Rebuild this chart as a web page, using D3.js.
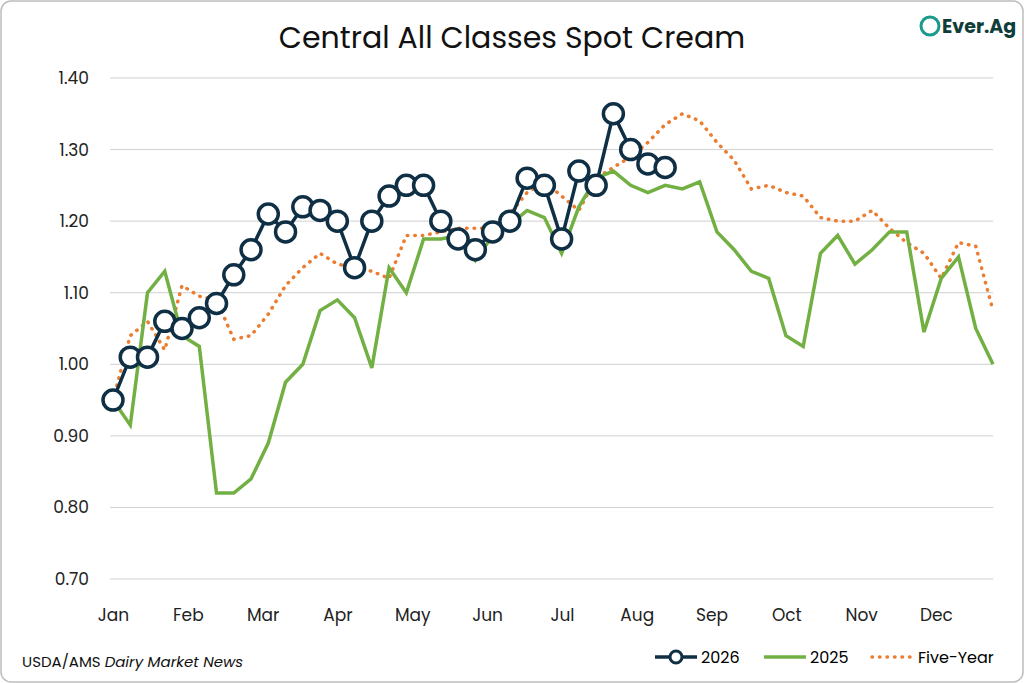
<!DOCTYPE html>
<html><head><meta charset="utf-8">
<script src="https://cdn.jsdelivr.net/npm/d3@7"></script>
<style>body{margin:0;background:#fff;font-family:Poppins,"Open Sans",sans-serif;}</style>
</head><body><div id="container"></div>
<script>
let width = 1024, height = 683;

let months = ["Jan","Feb","Mar","Apr","May","Jun","Jul","Aug","Sep","Oct","Nov","Dec"];
let yTicks = [0.70,0.80,0.90,1.00,1.10,1.20,1.30,1.40];

let s2026 = [0.95,1.01,1.01,1.06,1.05,1.065,1.085,1.125,1.16,1.21,1.185,1.22,1.215,1.20,1.135,1.20,1.235,1.25,1.25,1.20,1.175,1.16,1.185,1.20,1.26,1.25,1.175,1.27,1.25,1.35,1.30,1.28,1.275];
let s2025 = [0.95,0.915,1.10,1.13,1.04,1.025,0.82,0.82,0.84,0.89,0.975,1.00,1.075,1.09,1.065,0.995,1.135,1.10,1.175,1.175,1.18,1.145,1.18,1.195,1.215,1.205,1.155,1.22,1.26,1.27,1.25,1.24,1.25,1.245,1.255,1.185,1.16,1.13,1.12,1.04,1.025,1.155,1.18,1.14,1.16,1.185,1.185,1.045,1.12,1.15,1.05,1.00];
let fiveYear = [0.95,1.04,1.06,1.02,1.11,1.095,1.09,1.035,1.04,1.07,1.11,1.135,1.155,1.14,1.135,1.13,1.12,1.18,1.18,1.185,1.19,1.19,1.19,1.21,1.24,1.255,1.235,1.215,1.26,1.275,1.29,1.31,1.335,1.35,1.34,1.31,1.285,1.245,1.25,1.24,1.235,1.205,1.20,1.20,1.215,1.19,1.17,1.155,1.12,1.17,1.165,1.075];

let svg = d3.select("#container").append("svg")
    .attr("width", width).attr("height", height);

svg.append("rect").attr("x",1).attr("y",1).attr("width",width-2).attr("height",height-2)
    .attr("rx",10).attr("fill","#fff").attr("stroke","#bdbdbd").attr("stroke-width",1.5);

let x = d3.scaleLinear().domain([0,51]).range([113,993]);
let xm = d3.scalePoint().domain(months).range([113,936]);
let y = d3.scaleLinear().domain([0.70,1.40]).range([579,78]);

// grid
svg.selectAll(".grid").data(yTicks).enter().append("line")
    .attr("x1",110).attr("x2",993)
    .attr("y1",d=>y(d)).attr("y2",d=>y(d))
    .attr("stroke","#d0d0d0").attr("stroke-width",1);

let yAxis = svg.append("g").attr("transform","translate(100,0)")
    .call(d3.axisLeft(y).tickValues(yTicks).tickFormat(d3.format(".2f")).tickSize(0));
yAxis.select(".domain").remove();
yAxis.selectAll("text").attr("font-size",17).attr("fill","#222").attr("font-family","Poppins,'Open Sans',sans-serif").attr("dx",-8);

let xAxis = svg.append("g").attr("transform","translate(0,606)")
    .call(d3.axisBottom(xm).tickSize(0));
xAxis.select(".domain").remove();
xAxis.selectAll("text").attr("font-size",17).attr("fill","#222").attr("font-family","Poppins,'Open Sans',sans-serif");

let line = d3.line().x((d,i)=>x(i)).y(d=>y(d));

svg.append("path").datum(fiveYear).attr("d",line).attr("fill","none")
    .attr("stroke","#ec7c30").attr("stroke-width",3.5).attr("stroke-dasharray","0.5,7").attr("stroke-linecap","round");
svg.append("path").datum(s2025).attr("d",line).attr("fill","none")
    .attr("stroke","#72b043").attr("stroke-width",3.5);
svg.append("path").datum(s2026).attr("d",line).attr("fill","none")
    .attr("stroke","#0f2f45").attr("stroke-width",3.5);
svg.selectAll(".pt").data(s2026).enter().append("circle")
    .attr("cx",(d,i)=>x(i)).attr("cy",d=>y(d)).attr("r",10)
    .attr("fill","#fff").attr("stroke","#0f2f45").attr("stroke-width",3.5);

svg.append("text").attr("x",512).attr("y",48).attr("text-anchor","middle")
    .attr("font-size",30).attr("fill","#111").text("Central All Classes Spot Cream");

let src = svg.append("text").attr("x",22).attr("y",667).attr("font-size",15).attr("fill","#111");
src.append("tspan").text("USDA/AMS ");
src.append("tspan").attr("font-style","italic").text("Dairy Market News");

// legend
let lg = svg.append("g").attr("transform","translate(0,657)");
lg.append("line").attr("x1",655).attr("x2",697).attr("stroke","#0f2f45").attr("stroke-width",3.5);
lg.append("circle").attr("cx",676).attr("cy",0).attr("r",6).attr("fill","#fff").attr("stroke","#0f2f45").attr("stroke-width",3);
lg.append("text").attr("x",701).attr("y",6).attr("font-size",16).text("2026");
lg.append("line").attr("x1",764).attr("x2",806).attr("stroke","#72b043").attr("stroke-width",3.5);
lg.append("text").attr("x",810).attr("y",6).attr("font-size",16).text("2025");
lg.append("line").attr("x1",872).attr("x2",914).attr("stroke","#ec7c30").attr("stroke-width",3.5).attr("stroke-dasharray","0.5,7").attr("stroke-linecap","round");
lg.append("text").attr("x",918).attr("y",6).attr("font-size",16).text("Five-Year");

// logo
let logo = svg.append("g").attr("transform","translate(930,26)");
logo.append("circle").attr("cx",0).attr("cy",0).attr("r",9).attr("fill","none").attr("stroke","#1a9a8a").attr("stroke-width",3);
logo.append("text").attr("x",12).attr("y",7).attr("font-size",19).attr("font-weight","bold").attr("fill","#0f3d3a").text("Ever.Ag");
</script></body></html>
